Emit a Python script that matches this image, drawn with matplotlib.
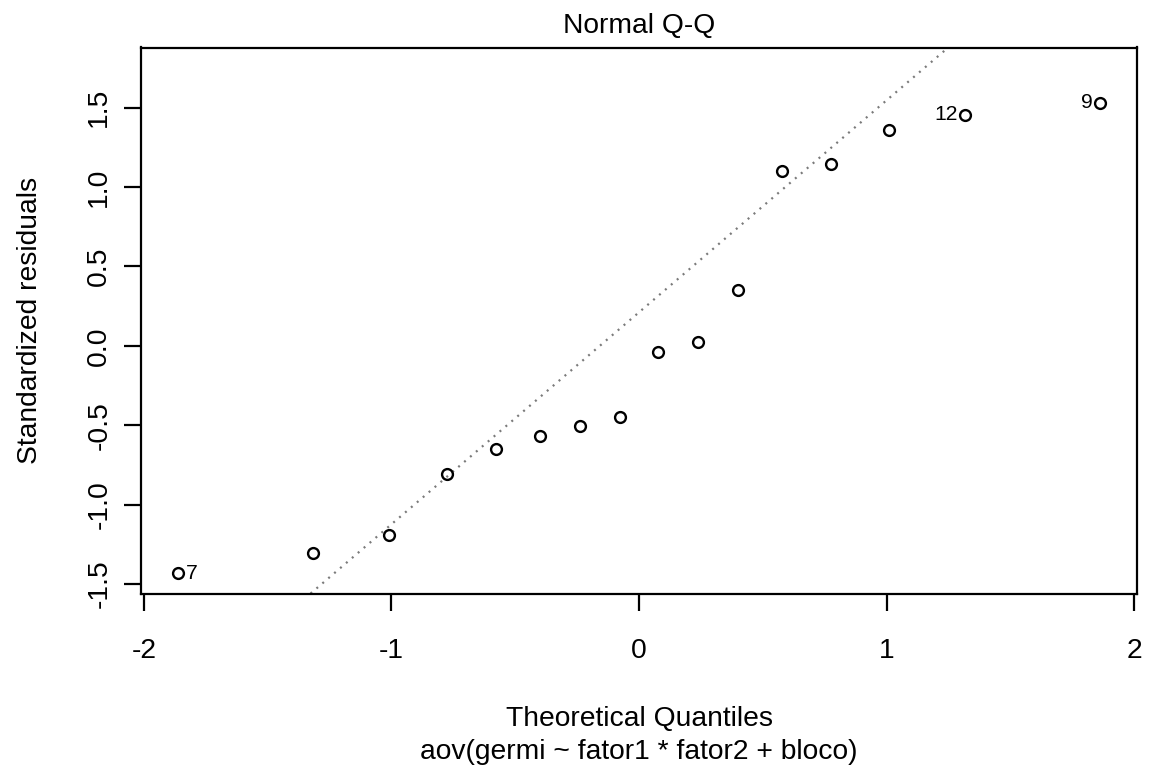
import numpy as np
import matplotlib
matplotlib.use("Agg")
import matplotlib.pyplot as plt

# Data
theoretical = [-1.863, -1.318, -1.010, -0.776, -0.579, -0.402, -0.237, -0.078,
               0.078, 0.237, 0.402, 0.579, 0.776, 1.010, 1.318, 1.863]
std_resid = [-1.432, -1.302, -1.191, -0.808, -0.649, -0.567, -0.504, -0.447,
             -0.040, 0.027, 0.351, 1.101, 1.142, 1.357, 1.456, 1.529]
id_index = [0, 14, 15]
id_labels = ["7", "12", "9"]
x_ticks = [-2, -1, 0, 1, 2]
y_ticks = [-1.5, -1.0, -0.5, 0.0, 0.5, 1.0, 1.5]
y_ticklabels = ["-1.5", "-1.0", "-0.5", "0.0", "0.5", "1.0", "1.5"]
title = "Normal Q-Q"
xlabel = "Theoretical Quantiles"
ylabel = "Standardized residuals"
subcaption = "aov(germi ~ fator1 * fator2 + bloco)"

plt.rcParams['font.family'] = ['Liberation Sans', 'DejaVu Sans']
FS = 20.3

W, H = 1151, 769
fig = plt.figure(figsize=(W / 100, H / 100), dpi=100)
L, R, T, B = 141, 1137, 47.5, 593.5
ax = fig.add_axes([L / W, 1 - B / H, (R - L) / W, (B - T) / H])

x = np.array(theoretical)
y = np.array(std_resid)

# R-style limits
xr = x.max() - x.min()
ax.set_xlim(x.min() - 0.04 * xr, x.max() + 0.04 * xr)
ylo, yhi = y.min(), y.max()
yhi = yhi + 0.075 * (yhi - ylo)
yr = yhi - ylo
ax.set_ylim(ylo - 0.04 * yr, yhi + 0.04 * yr)

# qqline through quartiles
q1, q3 = np.quantile(y, [0.25, 0.75])
z1, z3 = -0.6744898, 0.6744898
slope = (q3 - q1) / (z3 - z1)
intercept = q1 - slope * z1
ax.axline((0, intercept), slope=slope, color="#7a7a7a", lw=1.6,
          linestyle=(0, (0.9, 2.6)), zorder=1)

ax.plot(x, y, linestyle="none", marker="o", ms=7.8, mfc="none",
        mec="black", mew=1.7, zorder=3)

xmid = (x.max() + x.min()) / 2
for i, lab in zip(id_index, id_labels):
    if x[i] > xmid:
        ax.annotate(lab, (x[i], y[i]), xytext=(-5.5, 0), textcoords="offset points",
                    ha="right", va="center", fontsize=FS * 0.75)
    else:
        ax.annotate(lab, (x[i], y[i]), xytext=(5.5, 0), textcoords="offset points",
                    ha="left", va="center", fontsize=FS * 0.75)

for s in ax.spines.values():
    s.set_linewidth(1.6)

ax.set_xticks(x_ticks)
ax.set_xticklabels([str(v) for v in x_ticks], fontsize=FS)
ax.set_yticks(y_ticks)
ax.set_yticklabels(y_ticklabels, fontsize=FS, rotation=90, va="center")
ax.tick_params(axis="both", direction="out", length=12.2, width=1.6)
ax.tick_params(axis="x", pad=20)
ax.tick_params(axis="y", pad=8.5)

cx = (L + R) / 2 / W
fig.text(cx, 1 - 33 / H, title, ha="center", va="baseline", fontsize=FS)
fig.text(cx, 1 - 726 / H, xlabel, ha="center", va="baseline", fontsize=FS)
fig.text(cx, 1 - 759 / H, subcaption, ha="center", va="baseline", fontsize=FS)
fig.text(30 / W, 1 - ((T + B) / 2) / H, ylabel, ha="center", va="center",
         rotation=90, fontsize=FS)

fig.savefig("out.png", dpi=100)
